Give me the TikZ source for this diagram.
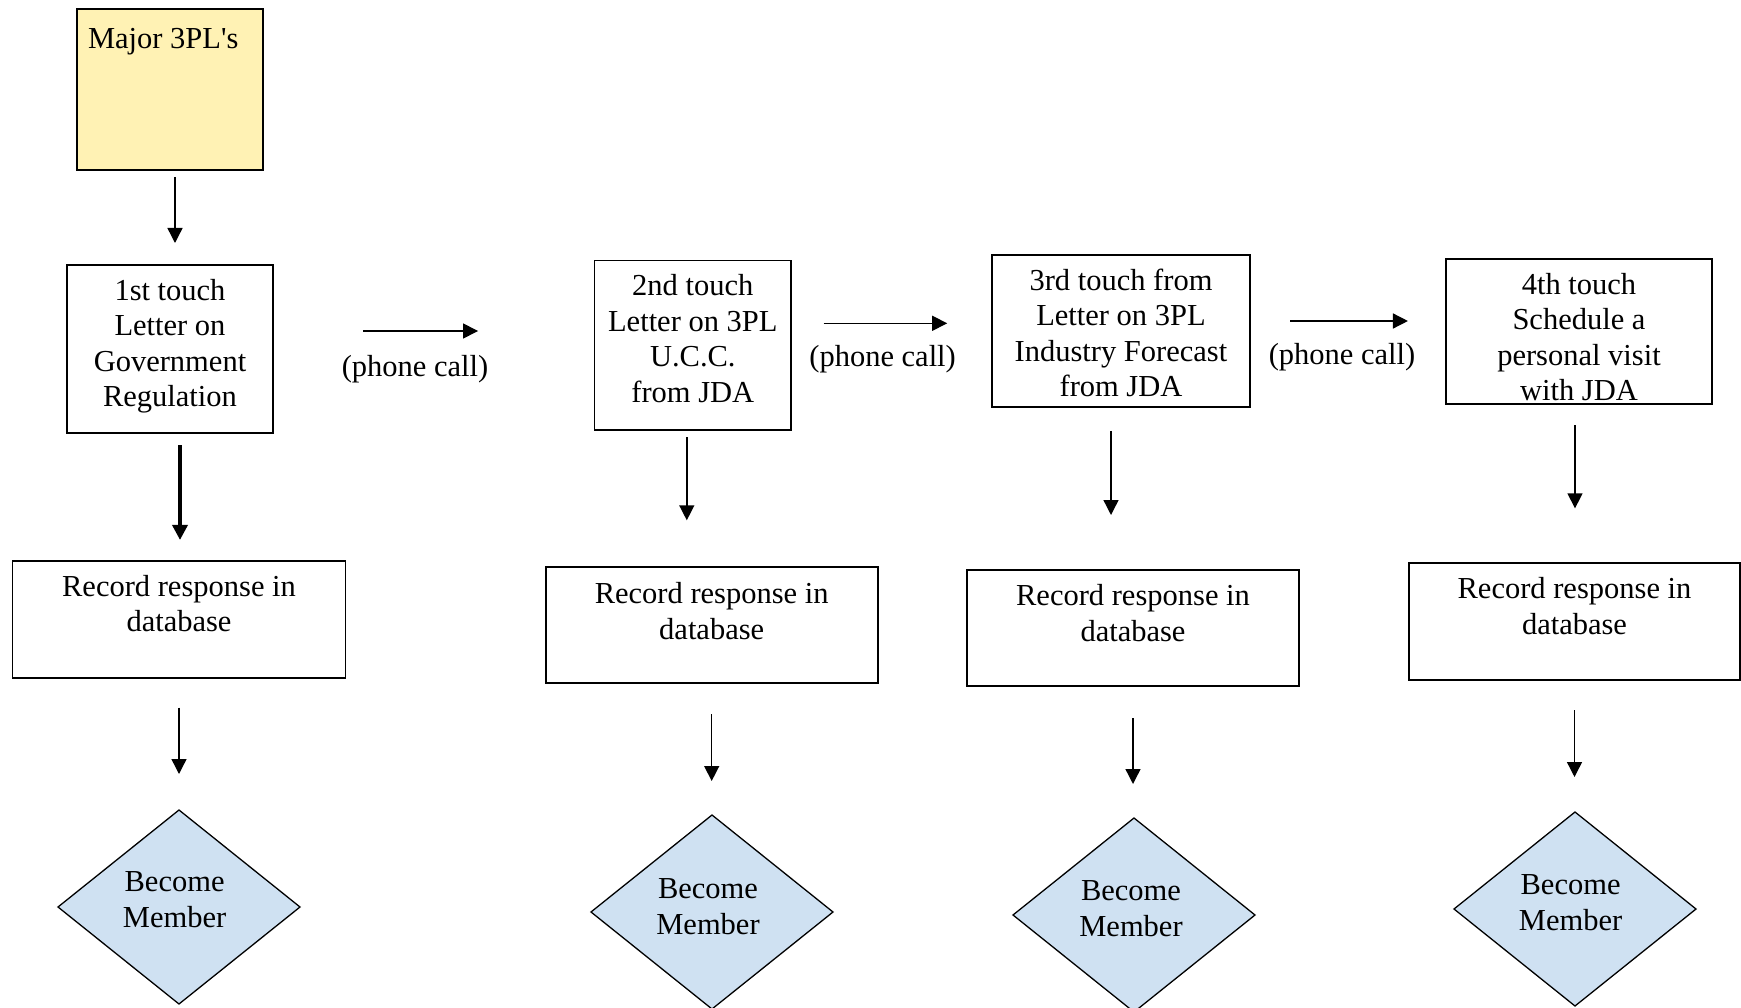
\documentclass[tikz,border=0pt]{standalone}
\usepackage{fontspec}
\setmainfont{Liberation Serif}[Ligatures=TeXOff]
\usetikzlibrary{shapes.geometric,arrows.meta}
\definecolor{notefill}{RGB}{255,242,180}
\definecolor{memberfill}{RGB}{207,225,242}
\begin{document}
\begin{tikzpicture}[x=1pt,y=-1pt,
  every node/.style={font=\fontsize{30.5}{35.5}\selectfont,align=center},
  box/.style={draw,line width=1.8pt,outer sep=0pt,inner sep=0pt},
  recbox/.style={box,minimum width=332pt,minimum height=116pt},
  member/.style={diamond,draw,line width=1.3pt,fill=memberfill,outer sep=0pt,
    inner sep=0pt,minimum width=242pt,minimum height=194pt},
  flow/.style={line width=1.4pt,-{Triangle[length=15pt,width=15pt]}},
  heavyflow/.style={flow,line width=3.5pt},
]
\useasboundingbox (0,0) rectangle (1741,1008);

% starting point
\node[box,fill=notefill,minimum width=186pt,minimum height=161pt] (major) at (170,89.5) {};
\node[anchor=base west] (majorlbl) at (84.5,48.3) {Major 3PL's};

% the four touches
\node[box,minimum width=206pt,minimum height=168pt] (t1) at (170,349) {};
\node (t1txt) at (170,346) {1st touch\\Letter on\\Government\\Regulation};
\node[box,minimum width=196.5pt,minimum height=169.5pt] (t2) at (692.8,345.3) {};
\node (t2txt) at (692.8,338.7) {2nd touch\\Letter on 3PL\\U.C.C.\\from JDA};
\node[box,minimum width=258pt,minimum height=152pt] (t3) at (1121,330.8) {};
\node (t3txt) at (1121,332.7) {3rd touch from\\Letter on 3PL\\Industry Forecast\\from JDA};
\node[box,minimum width=266.7pt,minimum height=145.3pt] (t4) at (1579,331.7) {};
\node (t4txt) at (1579,337) {4th touch\\Schedule a\\personal visit\\with JDA};

% phone call labels
\node (pc1) at (415,369.2) {(phone call)};
\node (pc2) at (882.6,359.2) {(phone call)};
\node (pc3) at (1342,357.5) {(phone call)};

% recording boxes
\node[recbox,minimum width=333pt,minimum height=116.7pt] (r1) at (179,619.3) {};
\node (r1txt) at (179,603.7) {Record response in\\database};
\node[recbox] (r2) at (711.7,625.3) {};
\node (r2txt) at (711.7,610.9) {Record response in\\database};
\node[recbox] (r3) at (1133,628) {};
\node (r3txt) at (1133,612.9) {Record response in\\database};
\node[recbox,minimum width=331pt,minimum height=116.7pt] (r4) at (1574.5,621.7) {};
\node (r4txt) at (1574.5,606.2) {Record response in\\database};

% membership decisions
\node[member] (d1) at (179,907) {};
\node (d1txt) at (174.6,899.7) {Become\\Member};
\node[member] (d2) at (712,912) {};
\node (d2txt) at (708,906.7) {Become\\Member};
\node[member] (d3) at (1134,915) {};
\node (d3txt) at (1131,908.7) {Become\\Member};
\node[member] (d4) at (1575,909) {};
\node (d4txt) at (1570.6,902.6) {Become\\Member};

% connectors
\draw[flow,shorten <=7pt,shorten >=22pt] ([xshift=5pt]major.south) -- ([xshift=5pt]t1.north);

\draw[flow,shorten <=90pt,shorten >=116.5pt] ([yshift=18pt]t1.east) -- ([yshift=18pt]t1.east -| t2.west);
\draw[flow,shorten <=32.5pt,shorten >=44.8pt] ([yshift=22pt]t2.east) -- ([yshift=22pt]t2.east -| t3.west);
\draw[flow,shorten <=40pt,shorten >=37.7pt] ([yshift=9.8pt]t3.east) -- ([yshift=9.8pt]t3.east -| t4.west);

\draw[heavyflow,shorten <=12pt,shorten >=21pt] ([xshift=10pt]t1.south) -- ([xshift=10pt]t1.south |- r1.north);
\draw[flow,shorten <=7pt,shorten >=47pt] ([xshift=-6pt]t2.south) -- ([xshift=-6pt]t2.south |- r2.north);
\draw[flow,shorten <=24pt,shorten >=55pt] ([xshift=-10pt]t3.south) -- ([xshift=-10pt]t3.south |- r3.north);
\draw[flow,shorten <=21pt,shorten >=55pt] ([xshift=-4pt]t4.south) -- ([xshift=-4pt]t4.south |- r4.north);

\draw[flow,shorten <=30pt,shorten >=36pt] (r1.south) -- (r1.south |- d1.north);
\draw[flow,shorten <=30.7pt,shorten >=34pt] (r2.south) -- (r2.south |- d2.north);
\draw[flow,shorten <=32pt,shorten >=34pt] (r3.south) -- (r3.south |- d3.north);
\draw[flow,shorten <=30pt,shorten >=35pt] (r4.south) -- (r4.south |- d4.north);
\end{tikzpicture}
\end{document}
